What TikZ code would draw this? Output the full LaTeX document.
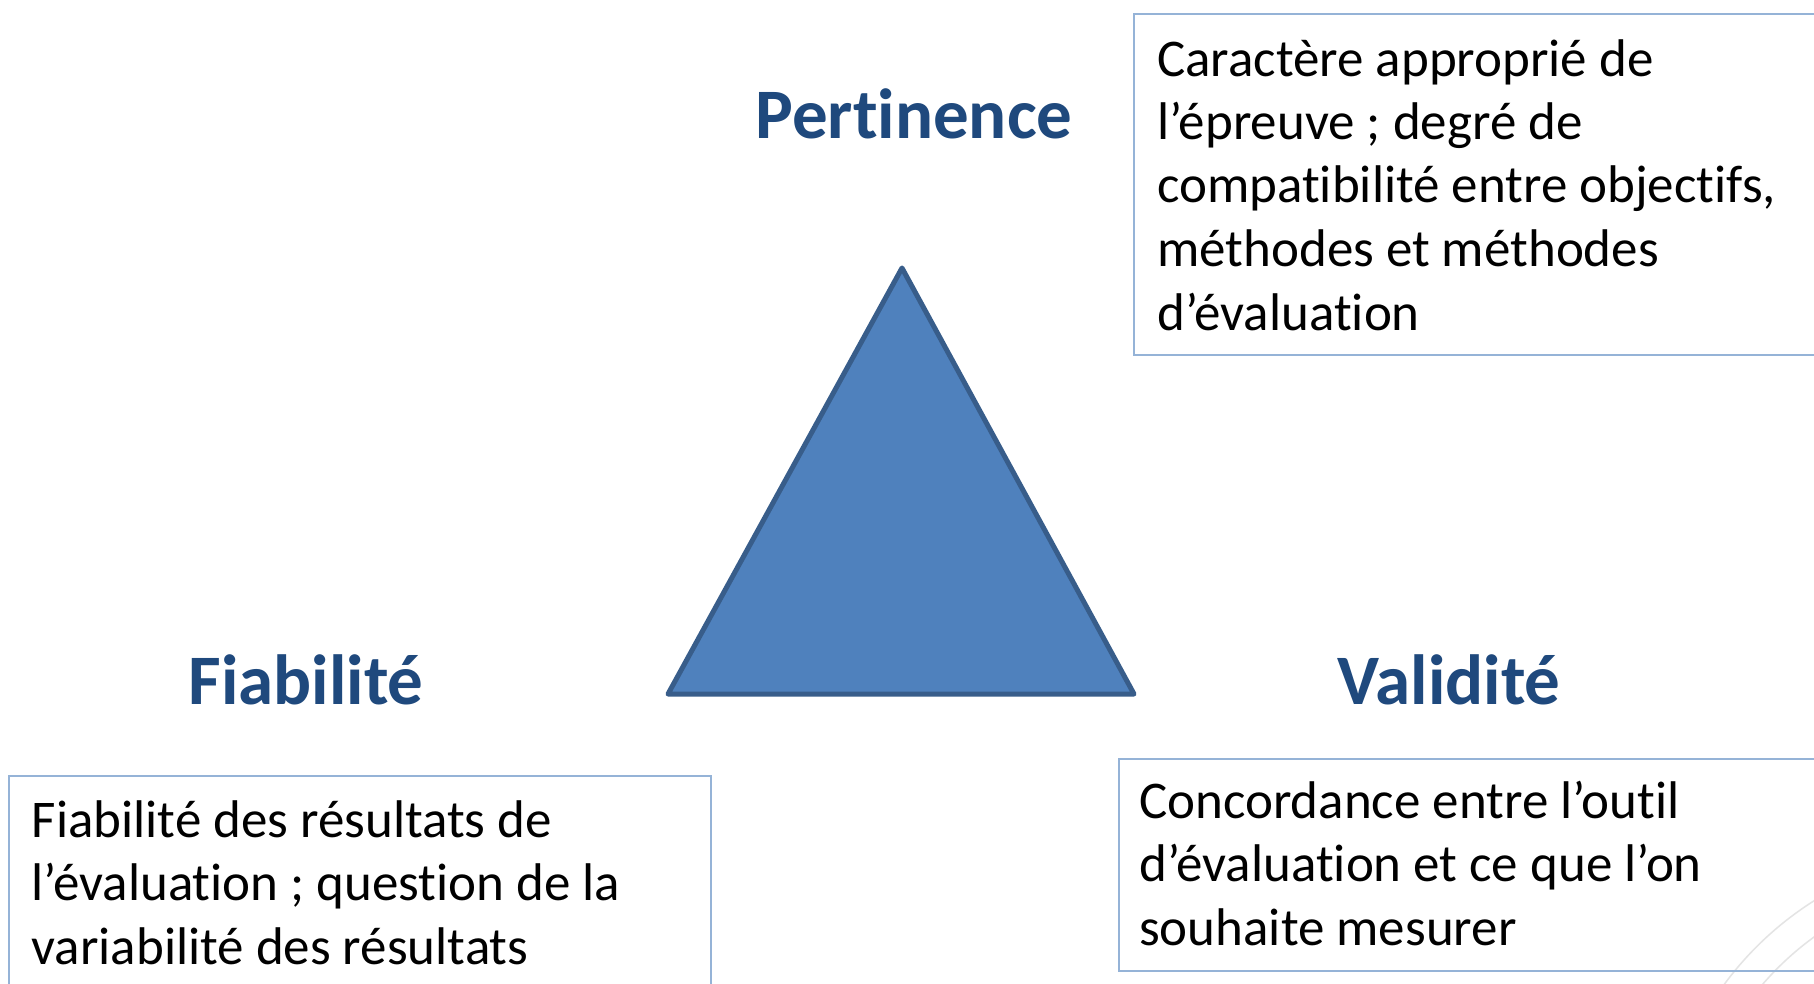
\documentclass[tikz,border=0pt]{standalone}
\usepackage{fontspec}
\setmainfont{Carlito}[Ligatures=NoCommon]
\definecolor{titleblue}{HTML}{1F497D}
\definecolor{trifill}{HTML}{4F81BD}
\definecolor{tristroke}{HTML}{385D8A}
\definecolor{boxline}{HTML}{95B3D7}
\definecolor{seal}{HTML}{E4E4E4}
\tikzset{
  titletext/.style={font=\fontsize{71}{85}\selectfont\bfseries, text=titleblue, inner sep=0pt, anchor=base},
  bodytext/.style={font=\fontsize{53}{63.5}\selectfont, text=black, inner sep=0pt, align=left, anchor=base west},
  infobox/.style={draw=boxline, line width=2pt},
}
\begin{document}
\begin{tikzpicture}[x=1pt,y=-1pt]
\clip (0,0) rectangle (1814,984);
\fill[white] (0,0) rectangle (1814,984);
% faint watermark seal
\draw[seal, line width=1.5pt] (1990,1180) circle (330);
\draw[seal, line width=1.5pt] (1990,1180) circle (300);
% triangle
\coordinate (apex) at (902,268);
\coordinate (bl) at (668,694);
\coordinate (br) at (1134,694);
\filldraw[fill=trifill, draw=tristroke, line width=5pt, line join=round] (apex) -- (br) -- (bl) -- cycle;
% titles
\node[titletext] (pert) at (914,139) {Pertinence};
\node[titletext] (fiab) at (306,704) {Fiabilité};
\node[titletext] (vali) at (1449,704) {Validité};
% boxes
\draw[infobox] (1134,14) rectangle (1840,355);
\draw[infobox] (9,776) rectangle (711,1010);
\draw[infobox] (1119,759) rectangle (1840,971);
\node[bodytext] (pertdesc) at (1157,330) {Caractère approprié de\\l’épreuve ; degré de\\compatibilité entre objectifs,\\méthodes et méthodes\\d’évaluation};
\node[bodytext] (fiabdesc) at (31.5,964) {Fiabilité des résultats de\\l’évaluation ; question de la\\variabilité des résultats};
\node[bodytext] (validesc) at (1139,945) {Concordance entre l’outil\\d’évaluation et ce que l’on\\souhaite mesurer};
\end{tikzpicture}
\end{document}
